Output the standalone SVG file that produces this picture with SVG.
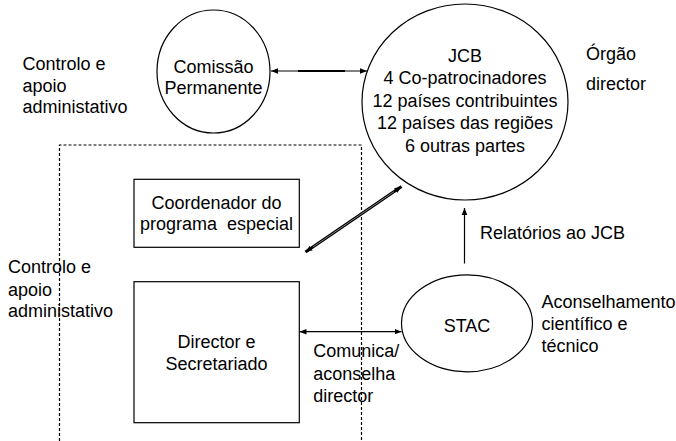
<svg xmlns="http://www.w3.org/2000/svg" width="676" height="441" viewBox="0 0 676 441">
<style>
text{font-family:"Liberation Sans",Arial,sans-serif;font-size:18px;fill:#000}
.c{text-anchor:middle}
.w{fill:#fff;stroke:#000;stroke-width:1.2}
.d{fill:none;stroke:#000;stroke-width:1.2;stroke-dasharray:3 2}
.a{fill:none;stroke:#000;stroke-width:1.2}
</style>
<defs>
<marker id="ah" viewBox="0 0 10 10" refX="10" refY="5" markerWidth="7" markerHeight="7" orient="auto-start-reverse" markerUnits="userSpaceOnUse"><path d="M0,1 L10,5 L0,9 z" fill="#000"/></marker>
</defs>
<rect width="676" height="441" fill="#fff"/>
<g id="boundary">
<path class="d" d="M59.5,441 V145 H361.5 V441"/>
</g>
<g id="labels">
<text x="22.5" y="70">Controlo e</text>
<text x="22.5" y="91.7">apoio</text>
<text x="22.5" y="113.3">administativo</text>
<text x="586" y="60">Órgão</text>
<text x="586" y="90">director</text>
<text x="8" y="273.3">Controlo e</text>
<text x="8" y="295.7">apoio</text>
<text x="8" y="317">administativo</text>
<text x="480" y="239.3">Relatórios ao JCB</text>
<text x="541.5" y="308.3">Aconselhamento</text>
<text x="541.5" y="330">científico e</text>
<text x="541.5" y="351.7">técnico</text>
<text x="313.3" y="357.3">Comunica/</text>
<text x="313.3" y="380">aconselha</text>
<text x="313.3" y="401.7">director</text>
</g>
<g id="comissao">
<ellipse class="w" cx="213.5" cy="71.5" rx="56.5" ry="61.5"/>
<text class="c" x="213.5" y="72.7">Comissão</text>
<text class="c" x="213.5" y="94.3">Permanente</text>
</g>
<g id="jcb">
<ellipse class="w" cx="465" cy="102" rx="103" ry="98"/>
<text class="c" x="465" y="61.7">JCB</text>
<text class="c" x="465" y="84">4 Co-patrocinadores</text>
<text class="c" x="465" y="106.5">12 países contribuintes</text>
<text class="c" x="465" y="129">12 países das regiões</text>
<text class="c" x="465" y="151.5">6 outras partes</text>
</g>
<g id="coordenador">
<rect class="w" x="134" y="179.3" width="165.3" height="68"/>
<text class="c" x="216.5" y="209" xml:space="preserve">Coordenador do</text>
<text class="c" x="216.5" y="230" xml:space="preserve">programa  especial</text>
</g>
<g id="director">
<rect class="w" x="134" y="281.7" width="165.3" height="141"/>
<text class="c" x="216.5" y="348.3">Director e</text>
<text class="c" x="216.5" y="370">Secretariado</text>
</g>
<g id="stac">
<ellipse class="w" cx="467" cy="323.3" rx="65.5" ry="48.5"/>
<text class="c" x="467" y="331.7">STAC</text>
</g>
<g id="connectors">
<line class="a" x1="271" y1="71" x2="367" y2="71" marker-start="url(#ah)" marker-end="url(#ah)"/>
<line x1="298" y1="71" x2="345" y2="71" stroke="#000" stroke-width="2"/>
<line x1="305.5" y1="252" x2="401.5" y2="186.5" stroke="#000" stroke-width="3" marker-start="url(#ah)" marker-end="url(#ah)"/>
<line x1="313" y1="246.9" x2="394" y2="191.6" stroke="#888" stroke-width="0.9"/>
<line class="a" x1="299.5" y1="331.7" x2="401.5" y2="331.7" marker-start="url(#ah)" marker-end="url(#ah)"/>
<line class="a" x1="464.5" y1="263.5" x2="464.5" y2="208" marker-end="url(#ah)"/>
</g>
</svg>
